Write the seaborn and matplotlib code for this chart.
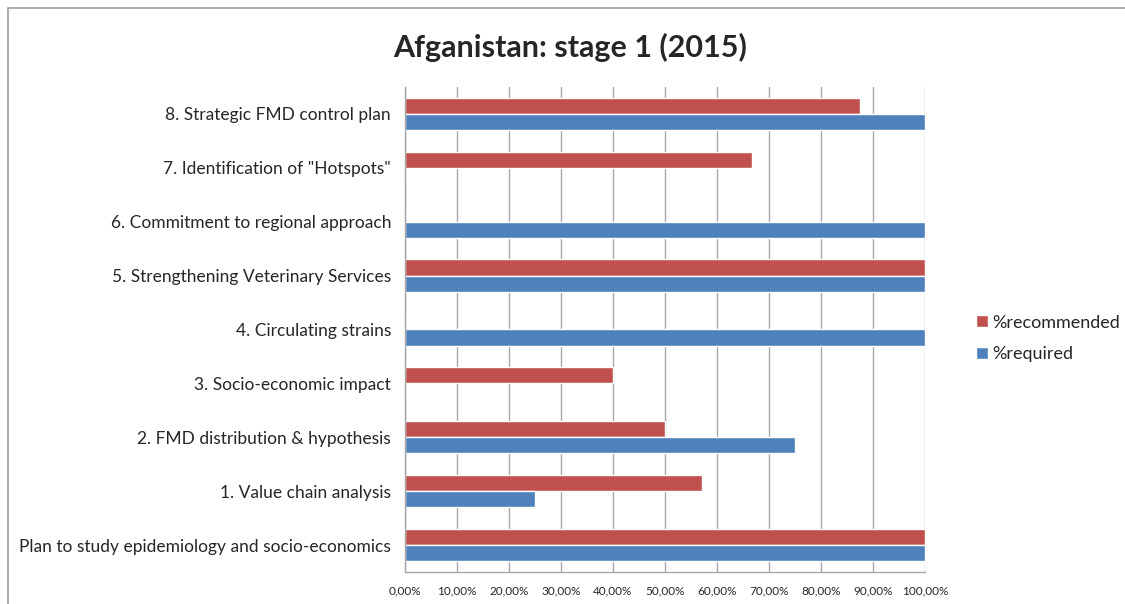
import numpy as np
import pandas as pd
import matplotlib
matplotlib.use('Agg')
import matplotlib.pyplot as plt
import seaborn as sns
from matplotlib.ticker import FuncFormatter, MultipleLocator
from matplotlib.patches import Rectangle

# categories listed top to bottom, as in the chart
categories = [
    '8. Strategic FMD control plan',
    '7. Identification of "Hotspots"',
    '6. Commitment to regional approach',
    '5. Strengthening Veterinary Services',
    '4. Circulating strains',
    '3. Socio-economic impact',
    '2. FMD distribution & hypothesis',
    '1. Value chain analysis',
    'Plan to study epidemiology and socio-economics',
]
recommended = [0.875, 0.667, 0.0, 1.0, 0.0, 0.40, 0.50, 0.571, 1.0]
required = [1.0, 0.0, 1.0, 1.0, 1.0, 0.0, 0.75, 0.25, 1.0]
series_names = ['%recommended', '%required']
series_colors = ['#C0504D', '#4F81BD']

sns.set_style('white')
plt.rcParams['font.family'] = ['Lato', 'DejaVu Sans']

df = pd.DataFrame({
    'Category': categories * 2,
    'Series': [series_names[0]] * len(categories) + [series_names[1]] * len(categories),
    'Value': recommended + required,
})

fig = plt.figure(figsize = (11.25, 6.04), dpi = 100)
ax = fig.add_axes([0.36, 0.053, 0.462, 0.803])

sns.barplot(data = df, y = 'Category', x = 'Value', hue = 'Series', order = categories,
            hue_order = series_names, palette = series_colors, orient = 'h',
            width = 0.6, saturation = 1, ax = ax, legend = True)

# axes look like the excel chart
ax.set_xlim(0, 1)
ax.set_ylim(len(categories) - 0.5, -0.5)
ax.xaxis.set_major_locator(MultipleLocator(0.1))
ax.xaxis.set_major_formatter(FuncFormatter(lambda v, p: f'{v * 100:.2f}%'.replace('.', ',')))
ax.grid(axis = 'x', color = '#a6a6a6', linewidth = 1)
ax.set_axisbelow(True)
ax.set_xlabel('')
ax.set_ylabel('')
for side in ['top', 'right']:
    ax.spines[side].set_visible(False)
for side in ['left', 'bottom']:
    ax.spines[side].set_color('#a6a6a6')
    ax.spines[side].set_linewidth(1)

ax.set_yticks(np.arange(len(categories)))
ax.set_yticks(np.arange(len(categories) + 1) - 0.5, minor = True)
ax.tick_params(axis = 'y', which = 'major', length = 0, pad = 10, labelsize = 12.5)
ax.tick_params(axis = 'y', which = 'minor', length = 5, color = '#a6a6a6', direction = 'out')
ax.tick_params(axis = 'x', which = 'major', length = 4, color = '#a6a6a6', direction = 'out',
               labelsize = 8.5, pad = 6)

leg = ax.legend(loc = 'center left', bbox_to_anchor = (0.853, 0.44), bbox_transform = fig.transFigure,
                frameon = False, fontsize = 13, handlelength = 0.65, handleheight = 0.65,
                handletextpad = 0.25, labelspacing = 0.85)

fig.text(0.507, 0.922, 'Afganistan: stage 1 (2015)', ha = 'center', va = 'center',
         fontsize = 22, fontweight = 'bold')

# chart frame, cut off at right and bottom
fig.patches.append(Rectangle((8 / 1125, -0.1), 1.2, 1.1 - 8 / 604, transform = fig.transFigure,
                             fill = False, edgecolor = '#a0a0a0', linewidth = 1.2))

fig.savefig('out.png', dpi = 100)
